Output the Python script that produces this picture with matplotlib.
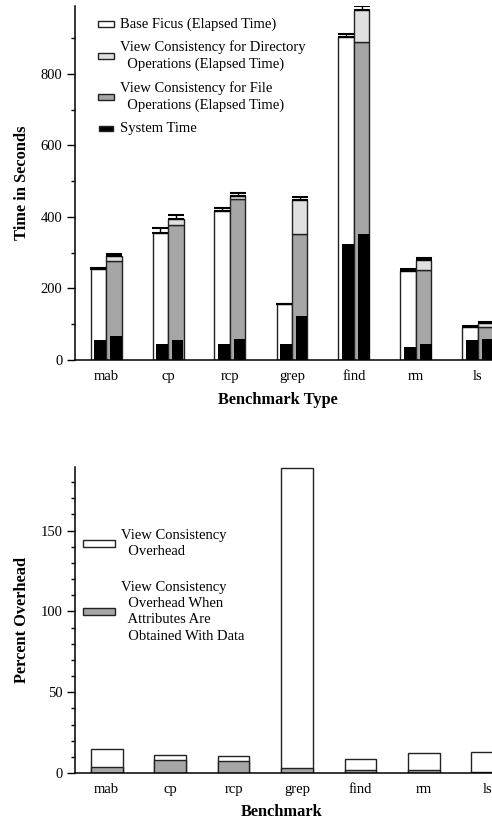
import numpy as np
import matplotlib.pyplot as plt
from matplotlib.patches import Rectangle
from matplotlib.ticker import MultipleLocator

plt.rcParams['font.family'] = ['Liberation Serif', 'DejaVu Serif']

benchmarks = ['mab', 'cp', 'rcp', 'grep', 'find', 'rm', 'ls']

# top chart: elapsed / system times in seconds
base_elapsed = [254, 356, 417, 156, 903, 250, 93]
base_err = [3, 12, 7, 2, 10, 4, 1]
vc_file = [277, 378, 450, 353, 888, 251, 93]
vc_dir = [292, 393, 460, 447, 980, 280, 104]
vc_err = [4, 12, 8, 8, 10, 4, 1]
sys_base = [56, 45, 46, 46, 324, 36, 55]
sys_vc = [67, 56, 58, 123, 351, 46, 58]

# bottom chart: percent overhead
overhead = [14.6, 11.1, 10.5, 189, 8.4, 12.3, 13.0]
overhead_data = [3.9, 7.8, 7.2, 3.3, 1.6, 1.6, 0.4]

W, H = 492, 821
LIGHT = '#e0e0e0'
GRAY = '#a6a6a6'
EDGE = '#222222'
FS = 10.5
LFS = 11.75


def fx(x):
    return x / W


def fy(y):
    return 1 - y / H


fig = plt.figure(figsize=(W / 100, H / 100), dpi=100)

ax1 = fig.add_axes([fx(75), fy(360), 434 / W, 354 / H])
ax2 = fig.add_axes([fx(75), fy(773), 444 / W, (773 - 466.7) / H])

x = np.arange(len(benchmarks))
bw = 0.25
sw = 0.19

# top chart
ax1.bar(x - bw / 2, base_elapsed, bw, color='white', edgecolor=EDGE, linewidth=1)
ax1.bar(x + bw / 2, vc_file, bw, color=GRAY, edgecolor=EDGE, linewidth=1)
ax1.bar(x + bw / 2, np.subtract(vc_dir, vc_file), bw, bottom=vc_file,
        color=LIGHT, edgecolor=EDGE, linewidth=1)
ax1.bar(x - sw / 2, sys_base, sw, color='black', linewidth=0)
ax1.bar(x + bw - sw / 2, sys_vc, sw, color='black', linewidth=0)
ax1.errorbar(x - bw / 2, base_elapsed, yerr=[np.zeros(len(x)), base_err],
             fmt='none', ecolor='black', elinewidth=1, capsize=5.5, capthick=1.5)
ax1.errorbar(x + bw / 2, vc_dir, yerr=[np.zeros(len(x)), vc_err],
             fmt='none', ecolor='black', elinewidth=1, capsize=5.5, capthick=1.5)
ax1.set_ylim(0, 990)
ax1.yaxis.set_major_locator(MultipleLocator(200))
ax1.yaxis.set_minor_locator(MultipleLocator(100))

# bottom chart
ax2.bar(x, overhead, 0.5, color='white', edgecolor=EDGE, linewidth=1)
ax2.bar(x, overhead_data, 0.5, color=GRAY, edgecolor=EDGE, linewidth=1)
ax2.set_ylim(0, 189.5)
ax2.yaxis.set_major_locator(MultipleLocator(50))
ax2.yaxis.set_minor_locator(MultipleLocator(10))

for ax in (ax1, ax2):
    ax.set_xlim(-0.5, 6.5)
    ax.set_xticks(x)
    ax.set_xticklabels(benchmarks)
    ax.spines['top'].set_visible(False)
    ax.spines['right'].set_visible(False)
    ax.spines['left'].set_linewidth(1.1)
    ax.spines['bottom'].set_linewidth(1.1)
    ax.tick_params(axis='x', length=0, pad=7, labelsize=FS)
    ax.tick_params(axis='y', which='major', direction='out', length=6,
                   width=1, pad=3, labelsize=FS)
    ax.tick_params(axis='y', which='minor', direction='out', length=3, width=1)

fig.text(fx(22), fy(183), 'Time in Seconds', rotation=90, ha='center', va='center',
         fontsize=LFS, fontweight='bold')
fig.text(fx(278), fy(400), 'Benchmark Type', ha='center', va='center',
         fontsize=LFS, fontweight='bold')
fig.text(fx(22), fy(620), 'Percent Overhead', rotation=90, ha='center', va='center',
         fontsize=LFS, fontweight='bold')
fig.text(fx(282), fy(812), 'Benchmark', ha='center', va='center',
         fontsize=LFS, fontweight='bold')


# hand-placed legends (pixel coords from top-left)
def legend_entry(x0, x1, yc, h, color, tx, label):
    fig.add_artist(Rectangle((fx(x0), fy(yc + h / 2)), (x1 - x0) / W, h / H,
                             transform=fig.transFigure, facecolor=color,
                             edgecolor=EDGE, linewidth=1))
    fig.text(fx(tx), fy(yc), label, ha='left', va='center', fontsize=FS,
             linespacing=1.32)


legend_entry(97.7, 114.3, 24, 6, 'white', 120, 'Base Ficus (Elapsed Time)')
legend_entry(97.7, 114.3, 55.7, 6, LIGHT, 120,
             'View Consistency for Directory\n  Operations (Elapsed Time)')
legend_entry(97.7, 114.3, 96.7, 6, GRAY, 120,
             'View Consistency for File\n  Operations (Elapsed Time)')
legend_entry(99.3, 112.7, 128.3, 5, 'black', 120, 'System Time')

legend_entry(82.7, 115, 543.5, 6.7, 'white', 121, 'View Consistency\n  Overhead')
legend_entry(82.7, 115, 611.7, 6.7, GRAY, 121,
             'View Consistency\n  Overhead When\n  Attributes Are\n  Obtained With Data')

fig.savefig('out.png', dpi=100)
